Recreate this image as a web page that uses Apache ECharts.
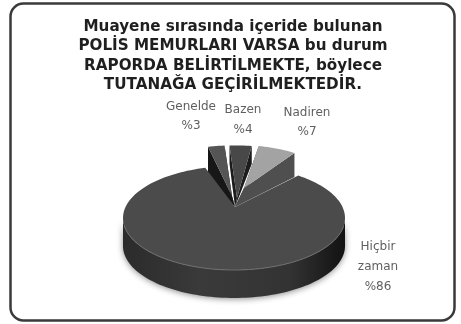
<!DOCTYPE html>
<html lang="tr">
<head>
<meta charset="utf-8">
<style>html,body{margin:0;padding:0;background:#fff}#chart{width:461px;height:324px}</style>
<script src="https://cdn.jsdelivr.net/npm/echarts@6/dist/echarts.min.js"></script>
</head>
<body>
<div id="chart"></div>
<script>
// Survey answers, in percent
const categories = ['Genelde', 'Bazen', 'Nadiren', 'Hiçbir zaman'];
const values = [3, 4, 7, 86];
const labelLines = [['Genelde', '%3'], ['Bazen', '%4'], ['Nadiren', '%7'], ['Hiçbir', 'zaman', '%86']];
const titleLines = [
  'Muayene sırasında içeride bulunan',
  'POLİS MEMURLARI VARSA bu durum',
  'RAPORDA BELİRTİLMEKTE, böylece',
  'TUTANAĞA GEÇİRİLMEKTEDİR.'
];

// Tilted pie geometry
const pie = { cx: 234, cy: 218, rx: 111, ry: 52, depth: 28, startDeg: 105, apexX: 235, apexY: 207 };
const sliceStyle = [
  { top: '#555555', wall: '#171717', lift: 31, shiftX: -3, apexDrop: 20, scale: 0.8, depth: 30 },
  { top: '#484848', wall: '#1c1c1c', lift: 31, shiftX: 2, apexDrop: 22, scale: 0.8, depth: 18 },
  { top: '#a3a3a3', wall: '#4f4f4f', lift: 31, shiftX: 9, apexDrop: 12, scale: 0.8, depth: 24 },
  { top: '#4b4b4b', wall: '#333333', lift: 0, shiftX: 0, apexDrop: 0, scale: 1, depth: 28 }
];
const labelPos = [[191, 107, 19], [243, 110, 20], [307, 113, 19], [378, 247, 20]];

const total = values.reduce((a, b) => a + b, 0);

function sliceAngles(index) {
  let before = 0;
  for (let i = 0; i < index; i++) before += values[i];
  return [pie.startDeg - before / total * 360, pie.startDeg - (before + values[index]) / total * 360];
}

function rimPoint(deg, dx, dy, k) {
  const t = deg * Math.PI / 180;
  return [pie.cx + dx + k * pie.rx * Math.cos(t), pie.cy + dy - k * pie.ry * Math.sin(t)];
}

function arcPoints(from, to, dx, dy, k) {
  const steps = Math.max(2, Math.ceil(Math.abs(from - to) / 2));
  const pts = [];
  for (let i = 0; i <= steps; i++) pts.push(rimPoint(from + (to - from) * i / steps, dx, dy, k));
  return pts;
}

function down(pts, d) { return pts.map(p => [p[0], p[1] + d]); }

function poly(pts, style) {
  return { type: 'polygon', shape: { points: pts }, style: typeof style === 'string' ? { fill: style } : style };
}

function renderSlice(params) {
  const i = params.dataIndex;
  const s = sliceStyle[i];
  const [a0, a1] = sliceAngles(i);
  const dx = s.shiftX, dy = -s.lift;
  const apex = [pie.apexX + dx, pie.apexY + dy + s.apexDrop];
  const rim = arcPoints(a0, a1, dx, dy, s.scale);
  const children = [];
  const isMain = i === categories.length - 1;

  if (isMain) {
    // Front skirt of the large slice, seen below its top face
    const front = arcPoints(180, 360, dx, dy, s.scale);
    children.push(poly(front.concat(down(front, s.depth).reverse()), {
      fill: {
        type: 'linear', x: 0, y: 0, x2: 1, y2: 0,
        colorStops: [
          { offset: 0, color: '#2b2b2b' }, { offset: 0.35, color: '#3a3a3a' },
          { offset: 0.75, color: '#333333' }, { offset: 1, color: '#121212' }
        ]
      },
      shadowBlur: 6, shadowColor: 'rgba(0,0,0,0.45)', shadowOffsetY: 1
    }));
  } else {
    // Cut faces of the pulled-out slices run down to the point of the large slice
    const first = rim[0], last = rim[rim.length - 1];
    const base = [pie.apexX, pie.apexY];
    children.push(poly([apex, first, [first[0], first[1] + s.depth], base], s.wall));
    children.push(poly([apex, last, [last[0], last[1] + s.depth], base], s.wall));
  }

  children.push(poly([apex].concat(rim), s.top));

  if (isMain) {
    // Light rim along the front edge of the top face
    children.push({
      type: 'polyline',
      shape: { points: arcPoints(190, 350, dx, dy, s.scale) },
      style: { fill: null, stroke: '#6e6e6e', lineWidth: 1 }
    });
  }

  const [lx, ly, step] = labelPos[i];
  labelLines[i].forEach((line, n) => {
    children.push({
      type: 'text',
      style: {
        x: lx, y: ly + n * step, text: line, fill: '#5f5f5f',
        font: '12px "DejaVu Sans"', align: 'center', verticalAlign: 'middle'
      }
    });
  });
  return { type: 'group', children };
}

const chart = echarts.init(document.getElementById('chart'), null, { renderer: 'canvas' });
chart.setOption({
  animation: false,
  backgroundColor: '#ffffff',
  graphic: [
    {
      type: 'rect',
      shape: { x: 10.5, y: 3.5, width: 444, height: 317, r: 13 },
      style: { fill: '#ffffff', stroke: '#3a3a3a', lineWidth: 2.5 },
      z: -1
    }
  ].concat(titleLines.map((line, n) => ({
    type: 'text',
    style: {
      x: 233, y: 27 + n * 19.5, text: line, fill: '#1f1f1f',
      font: 'bold 15.2px "DejaVu Sans"', align: 'center', verticalAlign: 'middle'
    },
    z: 5
  }))),
  series: [{
    type: 'custom',
    coordinateSystem: 'none',
    silent: true,
    data: categories.map((name, i) => ({ name, value: values[i] })),
    renderItem: renderSlice
  }]
});
</script>
</body>
</html>
